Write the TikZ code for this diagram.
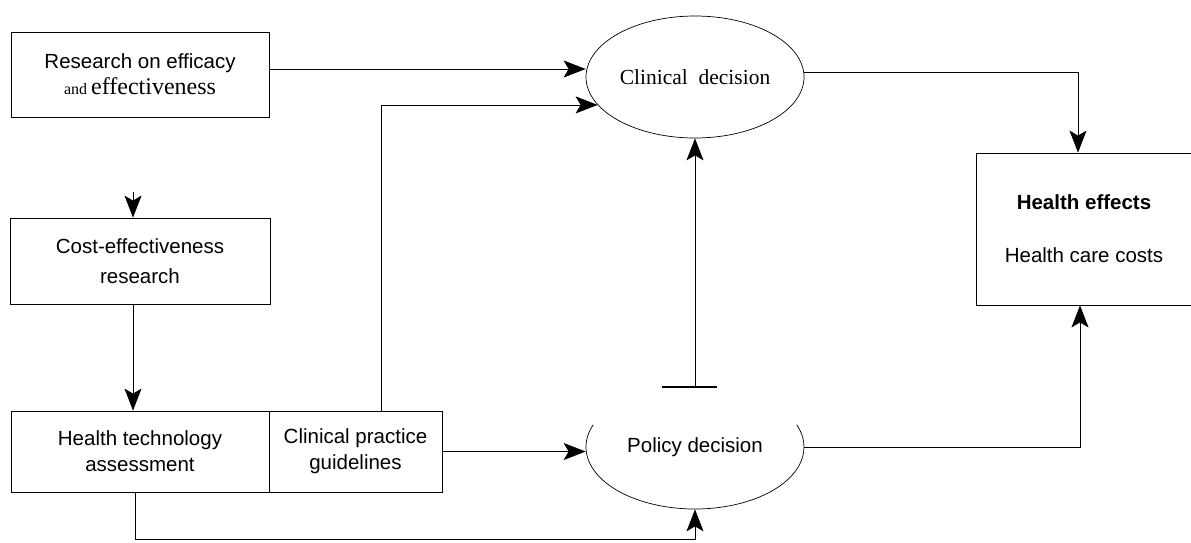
\documentclass[tikz,border=0pt]{standalone}
\usepackage{fontspec}
\setmainfont{Liberation Serif}
\setsansfont{Liberation Sans}
\usetikzlibrary{arrows.meta, shapes.geometric, positioning}

\tikzset{
  box/.style={draw, line width=0.8pt, align=center, inner sep=0pt,
    font=\sffamily\fontsize{20.5}{26}\selectfont},
  decision/.style={ellipse, draw, line width=0.7pt, inner sep=0pt,
    minimum width=218pt, minimum height=122pt},
  link/.style={line width=0.8pt, -{Stealth[length=22pt, width=17pt, inset=5pt]}},
}

\begin{document}
\begin{tikzpicture}[x=1pt, y=-1pt]
    \useasboundingbox (0,0) rectangle (1191,542);

    % Boxes on the left
    \node[box, minimum width=258pt, minimum height=85pt] (research) at (140,74.5)
        {Research on efficacy\\ {\rmfamily\fontsize{16}{26}\selectfont and \fontsize{24}{26}\selectfont effectiveness}};
    \node[box, minimum width=260pt, minimum height=86pt, font=\sffamily\fontsize{20.5}{30}\selectfont] (costeff) at (140,261)
        {Cost-effectiveness\\ research};
    \node[box, minimum width=258pt, minimum height=81pt] (hta) at (140,451.5)
        {Health technology\\ assessment};
    \node[box, minimum width=173pt, minimum height=81pt] (cpg) at (355.5,451.5)
        {Clinical practice\\ guidelines};

    % Decisions
    \node[decision, font=\rmfamily\fontsize{21.5}{26}\selectfont] (clinical) at (695,77) {Clinical\ \ decision};
    \node[decision, draw=none, minimum height=124pt, font=\sffamily\fontsize{20.5}{26}\selectfont] (policy) at (695,447) {Policy decision};
    \draw[line width=0.7pt] ([shift={(159:109pt and 62pt)}]policy.center)
        arc[start angle=159, end angle=381, x radius=109pt, y radius=62pt];

    % Outcomes
    \node[box, minimum width=216pt, minimum height=152pt] (outcome) at (1084,229)
        {{\bfseries Health effects}\\[27pt] Health care costs};

    % Connectors
    \coordinate (feed) at (133,192);
    \draw[link] (feed) -- ([xshift=-7pt]costeff.north);
    \draw[link] ([xshift=-7pt]costeff.south) -- ([xshift=-7pt]hta.north);
    \draw[link] ([yshift=5.5pt]research.east) -- ([yshift=8pt]clinical.west);
    \draw[link] ([xshift=25.5pt]cpg.north) |- (clinical.196);
    \draw[link] (cpg.east) -- (cpg.east -| policy.west);
    \draw[link] ([xshift=-5pt]hta.south) -- ++(0,47) -| (policy.south);
    \draw[link] ([yshift=5pt]clinical.east) -| ([xshift=-6pt]outcome.north);
    \draw[link] (policy.east) -| ([xshift=-4pt]outcome.south);

    % Bar under the clinical decision
    \coordinate (bar) at (695,387);
    \draw[line width=1.6pt] (662,387) -- (717,387);
    \draw[link] (bar) -- (clinical.south);

\end{tikzpicture}
\end{document}
